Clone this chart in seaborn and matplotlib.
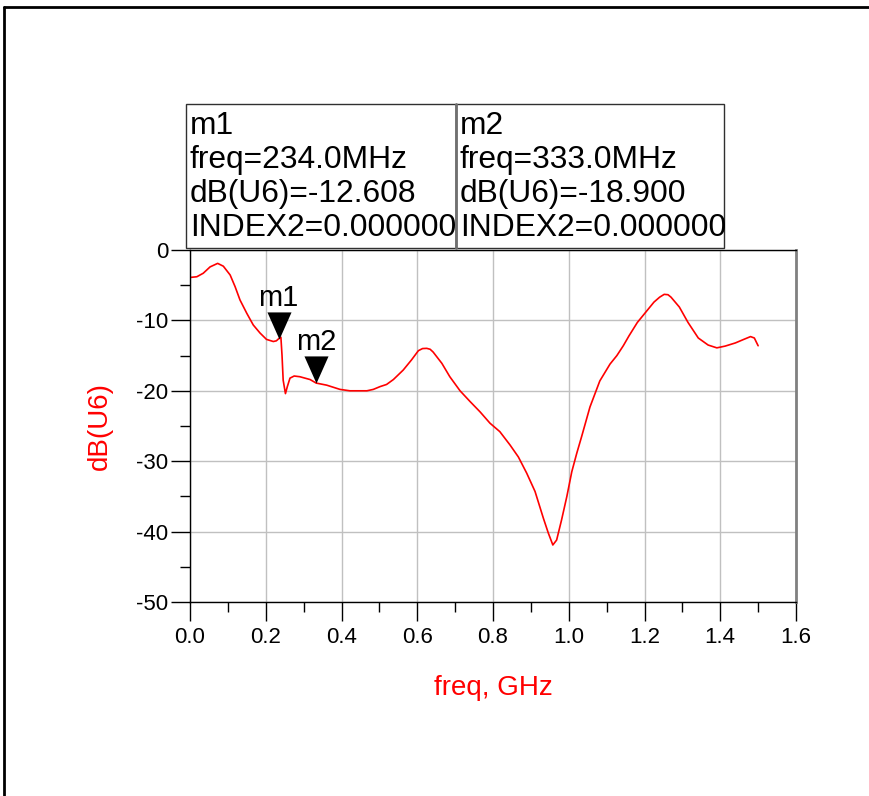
import numpy as np
import pandas as pd
import seaborn as sns
import matplotlib
matplotlib.use("Agg")
import matplotlib.pyplot as plt
from matplotlib.path import Path
from matplotlib.ticker import MultipleLocator, FixedLocator, FormatStrFormatter
from matplotlib.patches import Rectangle
from matplotlib.lines import Line2D

# Measured response dB(U6) versus frequency
freq_ghz = [0.000, 0.018, 0.035, 0.053, 0.073, 0.088, 0.106, 0.119, 0.132, 0.150,
            0.167, 0.185, 0.202, 0.220, 0.228, 0.234, 0.240, 0.243, 0.246, 0.252,
            0.257, 0.264, 0.275, 0.290, 0.317, 0.333, 0.361, 0.396, 0.422, 0.467,
            0.484, 0.502, 0.519, 0.537, 0.563, 0.585, 0.603, 0.614, 0.625, 0.634,
            0.642, 0.665, 0.686, 0.713, 0.739, 0.766, 0.792, 0.818, 0.845, 0.867,
            0.889, 0.911, 0.933, 0.946, 0.958, 0.968, 0.981, 0.995, 1.008, 1.021,
            1.034, 1.056, 1.082, 1.109, 1.127, 1.144, 1.159, 1.181, 1.203, 1.225,
            1.240, 1.252, 1.262, 1.270, 1.292, 1.315, 1.342, 1.368, 1.391, 1.413,
            1.440, 1.462, 1.480, 1.490, 1.500]
db_u6 = [-3.9, -3.8, -3.3, -2.4, -1.9, -2.3, -3.55, -5.2, -7.1, -9.0,
         -10.65, -11.8, -12.7, -13.0, -12.9, -12.608, -12.4, -15.0, -18.5, -20.4,
         -19.4, -18.2, -17.9, -18.0, -18.4, -18.9, -19.2, -19.8, -20.0, -20.0,
         -19.8, -19.4, -19.1, -18.4, -17.05, -15.6, -14.3, -14.0, -13.97, -14.1,
         -14.5, -16.1, -18.0, -20.0, -21.5, -23.0, -24.6, -25.8, -27.7, -29.4,
         -31.7, -34.3, -38.1, -40.2, -41.9, -41.2, -38.35, -35.0, -31.5, -28.9,
         -26.5, -22.3, -18.6, -16.2, -15.0, -13.6, -12.2, -10.3, -8.85, -7.4,
         -6.7, -6.3, -6.35, -6.7, -8.1, -10.3, -12.5, -13.5, -13.9, -13.65,
         -13.2, -12.7, -12.3, -12.5, -13.6]

# Marker readouts
marker_names = ["m1", "m2"]
marker_freq_mhz = [234.0, 333.0]
marker_db = [-12.608, -18.900]
marker_index2 = [0.0, 0.0]

x_ticks = [0.0, 0.2, 0.4, 0.6, 0.8, 1.0, 1.2, 1.4, 1.6]
y_ticks = [0, -10, -20, -30, -40, -50]

W, H = 870, 796
sns.set_theme(style="white")
plt.rcParams["font.family"] = ["Liberation Sans", "DejaVu Sans"]

fig = plt.figure(figsize=(W / 100, H / 100), dpi=100)
fig.patch.set_facecolor("white")


def fx(px):
    return px / W


def fy(py):
    return 1 - py / H


ax = fig.add_axes([fx(190), fy(602), fx(796) - fx(190), fy(250) - fy(602)])
ax.set_facecolor("white")

df = pd.DataFrame({"freq": freq_ghz, "db": db_u6})
sns.lineplot(data=df, x="freq", y="db", sort=False, estimator=None,
             color="#ff0000", linewidth=1.2, ax=ax)

ax.set_xlim(0.0, 1.6)
ax.set_ylim(-50, 0)
ax.xaxis.set_major_locator(FixedLocator(x_ticks))
ax.yaxis.set_major_locator(FixedLocator(y_ticks))
ax.xaxis.set_minor_locator(MultipleLocator(0.1))
ax.yaxis.set_minor_locator(MultipleLocator(5))
ax.xaxis.set_major_formatter(FormatStrFormatter("%.1f"))
ax.yaxis.set_major_formatter(FormatStrFormatter("%d"))

ax.grid(True, which="major", color="#c0c0c0", linewidth=1.0)
ax.set_axisbelow(True)
ax.tick_params(which="major", direction="out", length=14, width=1.0,
               color="black", labelsize=16, labelcolor="black", pad=4,
               bottom=True, left=True)
ax.tick_params(axis="y", which="major", pad=1.5)
ax.tick_params(which="minor", direction="out", length=7, width=1.0,
               color="black", bottom=True, left=True)

for side in ("left", "bottom", "top"):
    ax.spines[side].set_color("black")
    ax.spines[side].set_linewidth(1.0)
ax.spines["right"].set_color("#808080")
ax.spines["right"].set_linewidth(2.0)

ax.set_xlabel("freq, GHz", color="#ff0000", fontsize=20, va="center")
ax.set_ylabel("dB(U6)", color="#ff0000", fontsize=20, va="center")
ax.xaxis.set_label_coords(0.5, (602 - 688) / 352)
ax.yaxis.set_label_coords((100 - 190) / 606, 0.5)

# Downward triangle markers with the tip on the data point
tri = Path([(-12, 27), (12, 27), (0, 0), (-12, 27)],
           [Path.MOVETO, Path.LINETO, Path.LINETO, Path.CLOSEPOLY])
for name, fm, db in zip(marker_names, marker_freq_mhz, marker_db):
    f = fm / 1000.0
    ax.plot([f], [db], marker=tri, markersize=39, color="black",
            markeredgewidth=0, linestyle="none", zorder=5, clip_on=False)
    ax.annotate(name, xy=(f, db), xytext=(0, 23.5), textcoords="offset points",
                ha="center", va="baseline", fontsize=21, color="black",
                zorder=6, annotation_clip=False)

# Marker readout boxes above the plot
boxes = [(186, 456), (456, 724)]
box_top, box_bot = 104, 248
baselines = [134, 168, 202, 236]
for (x0, x1), name, fm, db, idx in zip(boxes, marker_names, marker_freq_mhz,
                                         marker_db, marker_index2):
    fig.patches.append(Rectangle((fx(x0), fy(box_bot)), fx(x1) - fx(x0),
                                 fy(box_top) - fy(box_bot),
                                 transform=fig.transFigure, facecolor="white",
                                 edgecolor="#303030", linewidth=1.0, zorder=3))
    lines = [name, f"freq={fm:.1f}MHz", f"dB(U6)={db:.3f}",
             f"INDEX2={idx:.6f}"]
    for text, bl in zip(lines, baselines):
        fig.text(fx(x0 + 4), fy(bl), text, ha="left", va="baseline",
                 fontsize=22.9, color="black", zorder=4)
fig.lines.append(Line2D([fx(456.5), fx(456.5)], [fy(box_bot), fy(box_top)],
                        transform=fig.transFigure, color="#707070",
                        linewidth=2.0, zorder=5))

# Outer frame around the plot area
fig.lines.append(Line2D([fx(4), fx(4)], [0, fy(7)], transform=fig.transFigure,
                        color="black", linewidth=2.0))
fig.lines.append(Line2D([fx(4), 1], [fy(7), fy(7)], transform=fig.transFigure,
                        color="black", linewidth=2.0))

fig.savefig("out.png", dpi=100, facecolor="white")
